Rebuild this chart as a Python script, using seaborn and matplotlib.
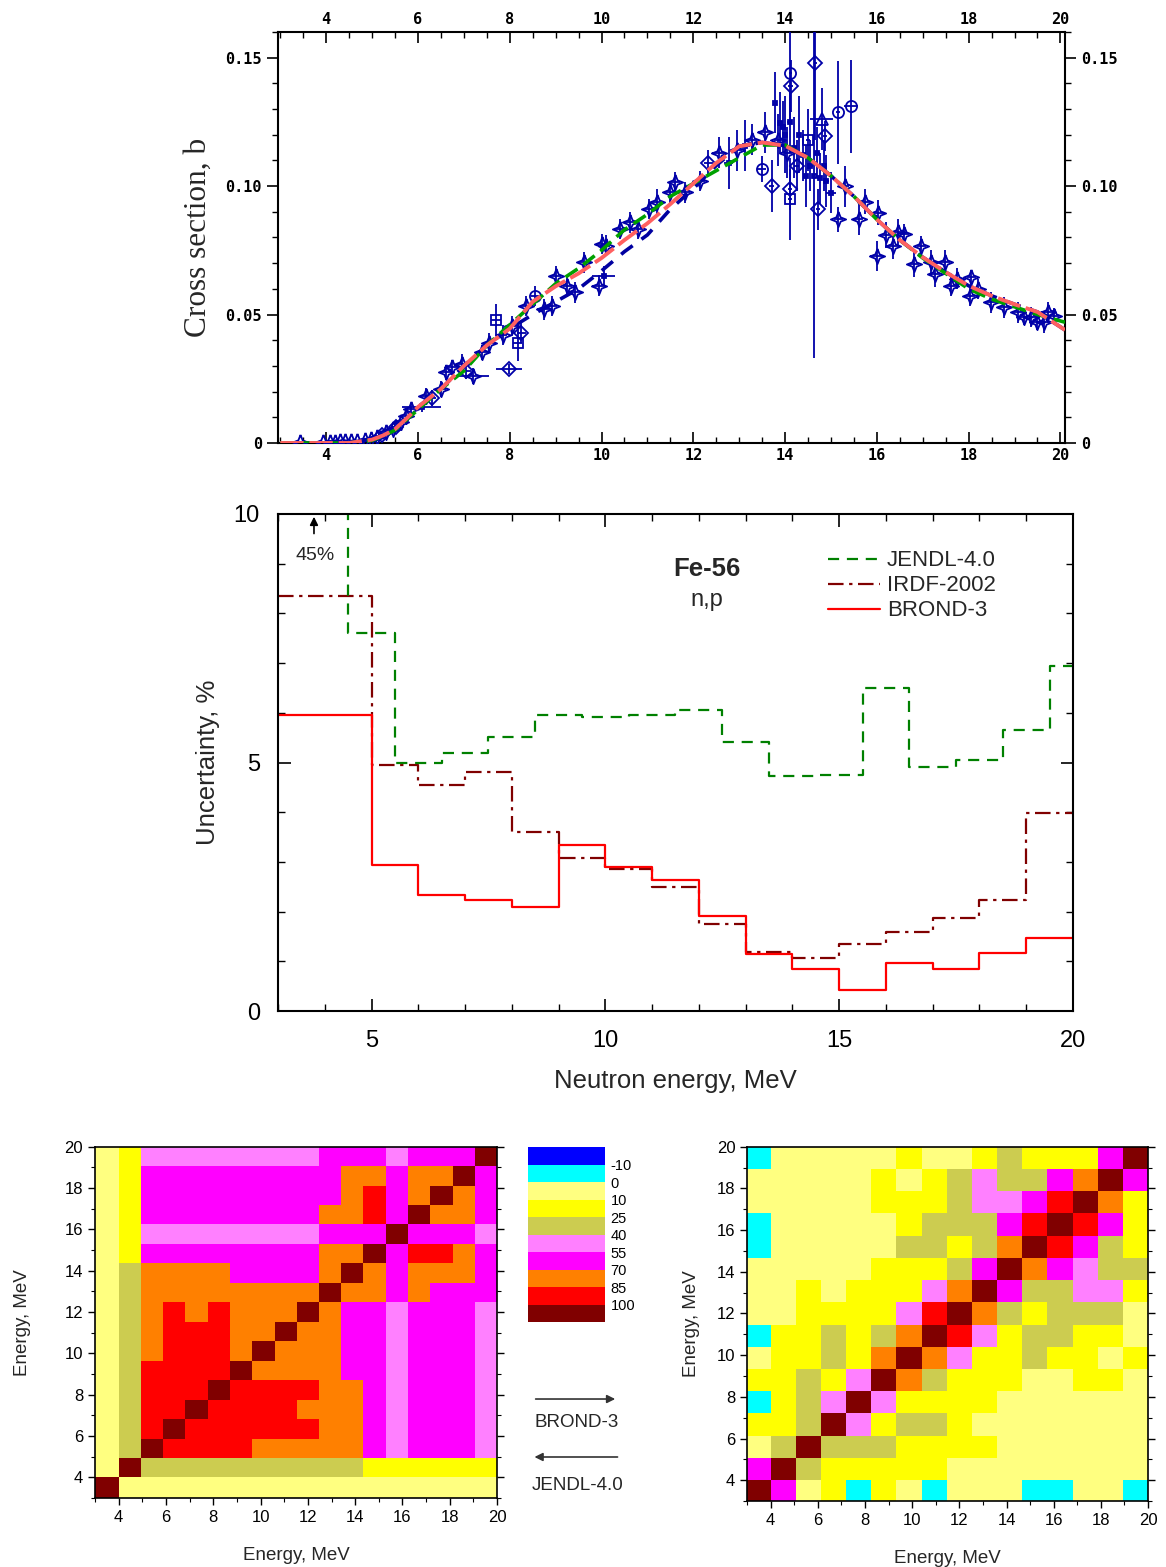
import numpy as np
import pandas as pd
import seaborn as sns
import matplotlib.pyplot as plt
import matplotlib.patches as mpatches
from matplotlib.colors import ListedColormap, BoundaryNorm
from matplotlib.cm import ScalarMappable
from matplotlib.ticker import MultipleLocator, FuncFormatter

# ---------------- top panel: Fe-56(n,p) cross section ----------------
curve_e = [3, 4, 4.5, 5, 5.25, 5.5, 5.75, 6, 6.5, 7, 7.5, 8, 8.5, 9, 9.5, 10, 10.5,
           11, 11.5, 12, 12.5, 13, 13.5, 14, 14.5, 15, 15.5, 16, 16.5, 17, 17.5,
           18, 18.5, 19, 19.5, 20.1]
brond_xs = [0, 0, 0, 0.0013, 0.003, 0.0054, 0.0095, 0.014, 0.021, 0.030, 0.038, 0.0445,
            0.055, 0.061, 0.066, 0.072, 0.079, 0.0855, 0.093, 0.101, 0.109, 0.1155, 0.117,
            0.1157, 0.111, 0.104, 0.096, 0.087, 0.079, 0.0723, 0.0665, 0.0612, 0.0573,
            0.054, 0.051, 0.044]
jendl_xs = [0, 0, 0, 0.001, 0.0028, 0.005, 0.009, 0.013, 0.021, 0.028, 0.038, 0.046,
            0.054, 0.062, 0.068, 0.075, 0.083, 0.089, 0.096, 0.101, 0.106, 0.111, 0.116,
            0.116, 0.111, 0.104, 0.096, 0.087, 0.079, 0.072, 0.066, 0.060, 0.056,
            0.053, 0.050, 0.047]
irdf_xs = [0, 0, 0, 0.0013, 0.003, 0.0054, 0.0095, 0.014, 0.021, 0.030, 0.038, 0.0445,
           0.050, 0.055, 0.060, 0.067, 0.0745, 0.081, 0.091, 0.099, 0.108, 0.1155, 0.117,
           0.1157, 0.111, 0.104, 0.096, 0.087, 0.079, 0.0723, 0.0665, 0.0612, 0.0573,
           0.054, 0.051, 0.044]

# experimental points (E, xs, dE, dxs), grouped by plotting symbol
exp_star = [
    (3.42, 0.0003, 0.05, 0.0005), (3.93, 0.0004, 0.05, 0.0005), (4.08, 0.0005, 0.05, 0.0005),
    (4.2, 0.0005, 0.05, 0.0005), (4.3, 0.0006, 0.05, 0.0005), (4.42, 0.0006, 0.05, 0.0005),
    (4.55, 0.0007, 0.05, 0.0005), (4.68, 0.0008, 0.05, 0.0005), (4.85, 0.0012, 0.05, 0.0006),
    (4.97, 0.0016, 0.05, 0.0006), (5.1, 0.0022, 0.08, 0.0008), (5.3, 0.0042, 0.1, 0.001),
    (5.45, 0.0055, 0.1, 0.0012), (5.62, 0.008, 0.1, 0.0015), (5.75, 0.0105, 0.12, 0.002),
    (5.85, 0.0132, 0.12, 0.002), (6.17, 0.0184, 0.1, 0.003), (6.5, 0.021, 0.12, 0.003),
    (6.61, 0.0275, 0.1, 0.003), (6.75, 0.0295, 0.12, 0.003), (6.97, 0.0307, 0.12, 0.004),
    (7.2, 0.026, 0.35, 0.003), (7.4, 0.0353, 0.12, 0.003), (7.55, 0.039, 0.12, 0.004),
    (7.85, 0.042, 0.1, 0.004), (8.05, 0.0456, 0.12, 0.004), (8.35, 0.0534, 0.12, 0.004),
    (8.75, 0.052, 0.15, 0.004), (8.93, 0.0534, 0.1, 0.004), (9.0, 0.065, 0.12, 0.004),
    (9.25, 0.061, 0.1, 0.004), (9.43, 0.0586, 0.15, 0.004), (9.62, 0.0703, 0.12, 0.004),
    (9.94, 0.0612, 0.15, 0.004), (10.01, 0.0774, 0.1, 0.004), (10.09, 0.0768, 0.1, 0.004),
    (10.41, 0.0833, 0.12, 0.004), (10.63, 0.0859, 0.12, 0.004), (10.8, 0.0833, 0.1, 0.004),
    (11.03, 0.091, 0.1, 0.004), (11.2, 0.0937, 0.1, 0.005), (11.5, 0.0976, 0.12, 0.004),
    (11.61, 0.1015, 0.1, 0.004), (11.83, 0.0976, 0.1, 0.004), (12.15, 0.102, 0.1, 0.004),
    (12.55, 0.113, 0.15, 0.006), (12.95, 0.114, 0.12, 0.008), (13.27, 0.118, 0.12, 0.006),
    (13.56, 0.121, 0.15, 0.008), (13.85, 0.118, 0.1, 0.01), (14.05, 0.113, 0.1, 0.01),
    (15.16, 0.087, 0.1, 0.005), (15.3, 0.1, 0.1, 0.008), (15.6, 0.087, 0.1, 0.006),
    (15.74, 0.094, 0.1, 0.005), (16.03, 0.0897, 0.12, 0.005), (16.0, 0.0728, 0.15, 0.006),
    (16.2, 0.081, 0.1, 0.005), (16.35, 0.0767, 0.15, 0.005), (16.46, 0.082, 0.1, 0.005),
    (16.6, 0.0813, 0.1, 0.004), (16.8, 0.0696, 0.12, 0.005), (16.97, 0.0767, 0.1, 0.004),
    (17.19, 0.0703, 0.12, 0.005), (17.26, 0.0657, 0.12, 0.005), (17.48, 0.0703, 0.12, 0.005),
    (17.62, 0.0612, 0.12, 0.004), (17.75, 0.064, 0.1, 0.004), (18.02, 0.0573, 0.12, 0.004),
    (18.06, 0.0645, 0.1, 0.003), (18.2, 0.06, 0.12, 0.004), (18.49, 0.0547, 0.12, 0.004),
    (18.78, 0.0528, 0.12, 0.004), (19.07, 0.0508, 0.12, 0.004), (19.2, 0.049, 0.1, 0.003),
    (19.35, 0.049, 0.12, 0.004), (19.5, 0.047, 0.1, 0.003), (19.65, 0.047, 0.12, 0.004),
    (19.72, 0.0508, 0.15, 0.004), (19.87, 0.0495, 0.1, 0.003),
]
exp_diamond = [
    (5.22, 0.003, 0.08, 0.001), (5.52, 0.0062, 0.1, 0.0015), (6.3, 0.0175, 0.1, 0.003),
    (7.05, 0.028, 0.1, 0.003), (7.98, 0.0288, 0.28, 0.002), (8.25, 0.043, 0.1, 0.004),
    (12.33, 0.109, 0.1, 0.005), (13.71, 0.1, 0.05, 0.01), (14.12, 0.139, 0.05, 0.01),
    (14.11, 0.0988, 0.05, 0.008), (14.25, 0.108, 0.05, 0.01), (14.66, 0.148, 0.03, 0.03),
    (14.72, 0.091, 0.05, 0.008), (14.87, 0.1195, 0.05, 0.006),
]
exp_square = [
    (7.7, 0.048, 0.1, 0.006), (8.17, 0.039, 0.1, 0.007), (14.11, 0.095, 0.05, 0.016),
    (14.5, 0.118, 0.05, 0.012),
]
exp_circle = [
    (8.56, 0.0573, 0.1, 0.004), (13.49, 0.1066, 0.1, 0.005), (14.11, 0.144, 0.03, 0.02),
    (15.15, 0.1287, 0.05, 0.02), (15.43, 0.131, 0.15, 0.018),
]
exp_triangle = [(14.8, 0.126, 0.25, 0.012)]
exp_bar = [
    (6.08, 0.014, 0.42, 0.002), (10.05, 0.065, 0.25, 0.004), (12.77, 0.109, 0.1, 0.01),
    (13.13, 0.1157, 0.1, 0.01), (13.78, 0.1325, 0.05, 0.012), (13.89, 0.1247, 0.05, 0.012),
    (13.95, 0.123, 0.05, 0.01), (14.0, 0.12, 0.05, 0.015), (14.1, 0.125, 0.05, 0.012),
    (14.2, 0.115, 0.05, 0.012), (14.3, 0.12, 0.05, 0.015), (14.4, 0.112, 0.05, 0.01),
    (14.45, 0.104, 0.05, 0.012), (14.55, 0.108, 0.05, 0.01), (14.62, 0.104, 0.03, 0.071),
    (14.7, 0.113, 0.05, 0.01), (14.75, 0.103, 0.05, 0.01), (14.85, 0.108, 0.05, 0.01),
    (14.9, 0.102, 0.05, 0.01), (15.0, 0.0975, 0.1, 0.008),
]

# ---------------- middle panel: uncertainties ----------------
jendl_edges = [3, 4.5, 5.5, 6.5, 7.5, 8.5, 9.5, 10.5, 11.5, 12.5, 13.5, 14.5, 15.5, 16.5,
               17.5, 18.5, 19.5, 20]
jendl_unc = [45, 7.6, 5.0, 5.19, 5.52, 5.95, 5.92, 5.95, 6.06, 5.42, 4.73, 4.75, 6.5,
             4.91, 5.05, 5.65, 6.95]
irdf_edges = [3, 5, 6, 7, 8, 9, 10, 11, 12, 13, 14, 15, 16, 17, 18, 19, 20]
irdf_unc = [8.35, 4.95, 4.55, 4.8, 3.61, 3.07, 2.85, 2.49, 1.76, 1.19, 1.06, 1.34, 1.58,
            1.88, 2.23, 3.99]
brond_edges = [3, 5, 6, 7, 8, 9, 10, 11, 12, 13, 14, 15, 16, 17, 18, 19, 20]
brond_unc = [5.95, 2.94, 2.33, 2.23, 2.1, 3.34, 2.9, 2.64, 1.92, 1.14, 0.84, 0.42, 0.96,
             0.84, 1.16, 1.46]

# ---------------- bottom: correlation matrices (%) ----------------
cov_levels = [-20, -10, 0, 10, 25, 40, 55, 70, 85, 100, 110]
cov_ticks = [-10, 0, 10, 25, 40, 55, 70, 85, 100]
cov_colors = ['#0000FF', '#00FFFF', '#FFFF80', '#FFFF00', '#CCCC50',
              '#FF80FF', '#FF00FF', '#FF8000', '#FF0000', '#800000']
code_value = {'c': -5, 'w': 5, 'y': 17, 'o': 32, 'p': 47, 'm': 62, 'n': 77, 'r': 92, 'd': 100}

brond_cov_edges = [3, 4, 4.94, 5.88, 6.82, 7.76, 8.71, 9.65, 10.59, 11.53, 12.47, 13.41,
                   14.35, 15.29, 16.24, 17.18, 18.12, 19.06, 20]
# rows listed from top (highest energy) to bottom
brond_cov = [
    "wyppppppppmmmpmmmd",
    "wymmmmmmmmmnnmnndm",
    "wymmmmmmmmmnrmndnm",
    "wymmmmmmmmnnrmdnnm",
    "wyppppppppmmmdmmmp",
    "wymmmmmmmmnndmrrnm",
    "wonnnnmmmmndnmnnnm",
    "wonnnnnnnndnnmnmmm",
    "wonrnrnnndnmmpmmmp",
    "wonrrrnndnnmmpmmmp",
    "wonrrrndnnnmmpmmmp",
    "worrrrdnnnnmmpmmmp",
    "worrrdrrrrnnmpmmmp",
    "worrdrrrrnnnmpmmmp",
    "wordrrrrrrnnmpmmmp",
    "wodrrrrnnnnnmpmmmp",
    "wdooooooooooyyyyyy",
    "dwwwwwwwwwwwwwwwww",
]
jendl_cov_edges = [3, 4, 5.07, 6.13, 7.2, 8.27, 9.33, 10.4, 11.47, 12.53, 13.6, 14.67,
                   15.73, 16.8, 17.87, 18.93, 20]
jendl_cov = [
    "cwwwwwywwyoyyymd",
    "wwwwwywyopoomndm",
    "wwwwwyyyoppmrdny",
    "cwwwwwyooomrdrmy",
    "cwwwwwooyondrmoy",
    "wwwwwyyyomdnmpoo",
    "wwywyyypndmooppy",
    "wwyyyyprdnoyooow",
    "cyyoyondrpyooyyw",
    "wyyoyndnpyyoyywy",
    "yyoypdnoyyywwyyw",
    "cyopdpyyyywwwwww",
    "yyodpyooywwwwwww",
    "wodoooyyyywwwwww",
    "mdoyyyyywwwwwwww",
    "dmwycywcwwwccwwc",
]

sns.set_style("ticks", {"axes.edgecolor": "black", "xtick.color": "black",
                        "ytick.color": "black"})
plt.rcParams['font.family'] = ['Liberation Sans', 'DejaVu Sans']
plt.rcParams['axes.unicode_minus'] = False

fig = plt.figure(figsize=(11.66, 15.67), dpi=100)

# ======== top panel ========
ax1 = fig.add_axes([0.2384, 0.7173, 0.675, 0.2623])
curves = pd.DataFrame({'E': curve_e, 'brond': brond_xs, 'jendl': jendl_xs, 'irdf': irdf_xs})
sns.lineplot(data=curves, x='E', y='irdf', ax=ax1, color='#0000A0', lw=2.6,
             linestyle=(0, (4, 3)), estimator=None, sort=False)

navy = '#0000A8'
star4 = [(0, 1), (0.28, 0.28), (1, 0), (0.28, -0.28), (0, -1), (-0.28, -0.28),
         (-1, 0), (-0.28, 0.28), (0, 1)]
groups = [(exp_star, star4, 11), (exp_diamond, 'D', 7), (exp_square, 's', 7),
          (exp_circle, 'o', 8), (exp_triangle, '^', 8), (exp_bar, 's', 3)]
for rows, mk, ms in groups:
    pts = pd.DataFrame(rows, columns=['E', 'xs', 'dE', 'dxs'])
    ax1.errorbar(pts['E'], pts['xs'], xerr=pts['dE'], yerr=pts['dxs'], fmt='none',
                 ecolor=navy, elinewidth=1.3, capsize=0, zorder=3)
    ax1.plot(pts['E'], pts['xs'], ls='none', marker=mk, ms=ms, mfc='none', mec=navy,
             mew=1.3, zorder=3)

sns.lineplot(data=curves, x='E', y='jendl', ax=ax1, color='#00A000', lw=2.6,
             linestyle=(0, (4, 2)), estimator=None, sort=False, zorder=4)
sns.lineplot(data=curves, x='E', y='brond', ax=ax1, color='#FF6060', lw=2.8,
             linestyle=(0, (6, 1.5)), estimator=None, sort=False, zorder=5)

ax1.set_xlim(2.95, 20.1)
ax1.set_ylim(0, 0.16)
ax1.xaxis.set_major_locator(MultipleLocator(2))
ax1.xaxis.set_minor_locator(MultipleLocator(0.5))
ax1.yaxis.set_major_locator(MultipleLocator(0.05))
ax1.yaxis.set_minor_locator(MultipleLocator(0.01))
ax1.yaxis.set_major_formatter(FuncFormatter(lambda v, p: '0' if abs(v) < 1e-9 else f'{v:.2f}'))
ax1.tick_params(axis='x', which='both', direction='in', top=True, labeltop=True)
ax1.tick_params(axis='y', which='both', direction='out', right=True, labelright=True)
ax1.tick_params(which='major', length=8, width=1.2)
ax1.tick_params(which='minor', length=4, width=1.0)
for lab in ax1.get_xticklabels() + ax1.get_yticklabels():
    lab.set_fontfamily('DejaVu Sans Mono')
    lab.set_fontweight('bold')
    lab.set_fontsize(11)
ax1.set_xlabel('')
ax1.set_ylabel('Cross section, b', family='Liberation Serif', fontsize=22.5, labelpad=9)
for s in ax1.spines.values():
    s.set_linewidth(1.5)

# ======== middle panel ========
ax2 = fig.add_axes([0.2384, 0.3548, 0.6818, 0.3172])
series = [
    (irdf_edges, irdf_unc, '#800000', (0, (7, 2.5, 1.5, 2.5)), 'IRDF-2002'),
    (jendl_edges, jendl_unc, '#008000', (0, (5, 3.5)), 'JENDL-4.0'),
    (brond_edges, brond_unc, '#FF0000', '-', 'BROND-3'),
]
handles = {}
for edges, vals, col, ls, lab in series:
    sns.lineplot(x=edges, y=list(vals) + [vals[-1]], ax=ax2, color=col, lw=1.6,
                 linestyle=ls, drawstyle='steps-post', estimator=None, sort=False)
    handles[lab] = ax2.lines[-1]
ax2.set_xlim(3, 20)
ax2.set_ylim(0, 10)
ax2.xaxis.set_major_locator(MultipleLocator(5))
ax2.xaxis.set_minor_locator(MultipleLocator(1))
ax2.yaxis.set_major_locator(MultipleLocator(5))
ax2.yaxis.set_minor_locator(MultipleLocator(1))
ax2.tick_params(which='both', direction='in', top=True, right=True, labelsize=17)
ax2.tick_params(axis='x', which='major', length=9, width=1.2, pad=14)
ax2.tick_params(axis='y', which='major', length=9, width=1.2, pad=13)
ax2.tick_params(which='minor', length=5, width=1.0)
ax2.set_xlabel('Neutron energy, MeV', fontsize=18.5, labelpad=12)
ax2.set_ylabel('Uncertainty, %', fontsize=18.5, labelpad=10)
for s in ax2.spines.values():
    s.set_linewidth(1.5)
ax2.legend([handles['JENDL-4.0'], handles['IRDF-2002'], handles['BROND-3']],
           ['JENDL-4.0', 'IRDF-2002', 'BROND-3'], loc='upper left',
           bbox_to_anchor=(0.672, 0.958), frameon=False, fontsize=16,
           handlelength=2.35, handletextpad=0.3, labelspacing=0.18, borderpad=0.2)
ax2.text(12.17, 8.9, 'Fe-56', ha='center', va='center', fontsize=18.5, fontweight='bold')
ax2.text(12.17, 8.27, 'n,p', ha='center', va='center', fontsize=17)
ax2.annotate('', xy=(3.77, 10.0), xytext=(3.77, 9.55),
             arrowprops=dict(arrowstyle='-|>', color='black', lw=1.2, mutation_scale=12))
ax2.text(3.79, 9.17, '45%', ha='center', va='center', fontsize=14)

# ======== bottom: correlation matrices ========
cmap = ListedColormap(cov_colors)
norm = BoundaryNorm(cov_levels, cmap.N)


def draw_matrix(ax, edges, rows, ypad):
    mat = np.array([[code_value[ch] for ch in row] for row in rows[::-1]])
    ax.pcolormesh(edges, edges, mat, cmap=cmap, norm=norm)
    ax.set_xlim(3, 20)
    ax.set_ylim(3, 20)
    ax.set_xticks([4, 6, 8, 10, 12, 14, 16, 18, 20])
    ax.set_yticks([4, 6, 8, 10, 12, 14, 16, 18, 20])
    ax.xaxis.set_minor_locator(MultipleLocator(1))
    ax.yaxis.set_minor_locator(MultipleLocator(1))
    ax.tick_params(which='both', direction='out', right=True, labelsize=12)
    ax.tick_params(which='major', length=5, width=1.0)
    ax.tick_params(which='minor', length=3, width=0.8)
    ax.set_xlabel('Energy, MeV', fontsize=13.5, labelpad=16)
    ax.set_ylabel('Energy, MeV', fontsize=13.5, labelpad=ypad)
    for s in ax.spines.values():
        s.set_linewidth(1.2)


ax3 = fig.add_axes([0.0815, 0.044, 0.3448, 0.2242])
draw_matrix(ax3, brond_cov_edges, brond_cov, 24)
ax4 = fig.add_axes([0.6407, 0.0421, 0.3439, 0.2261])
draw_matrix(ax4, jendl_cov_edges, jendl_cov, 12)

cax = fig.add_axes([0.4528, 0.1563, 0.066, 0.1117])
cb = fig.colorbar(ScalarMappable(norm=norm, cmap=cmap), cax=cax, boundaries=cov_levels,
                  spacing='uniform', ticks=cov_ticks)
cb.ax.invert_yaxis()
cb.outline.set_visible(False)
cax.minorticks_off()
cax.tick_params(length=0, labelsize=10.5, pad=4)

fig.patches.append(mpatches.FancyArrowPatch(
    (0.457, 0.1072), (0.530, 0.1072), transform=fig.transFigure, arrowstyle='-|>',
    mutation_scale=12, color='#333333', lw=1.2))
fig.patches.append(mpatches.FancyArrowPatch(
    (0.532, 0.0702), (0.456, 0.0702), transform=fig.transFigure, arrowstyle='-|>',
    mutation_scale=12, color='#333333', lw=1.2))
fig.text(0.4949, 0.0919, 'BROND-3', ha='center', va='center', fontsize=13.5)
fig.text(0.4957, 0.0523, 'JENDL-4.0', ha='center', va='center', fontsize=13.5)

fig.savefig('out.png', dpi=100)
